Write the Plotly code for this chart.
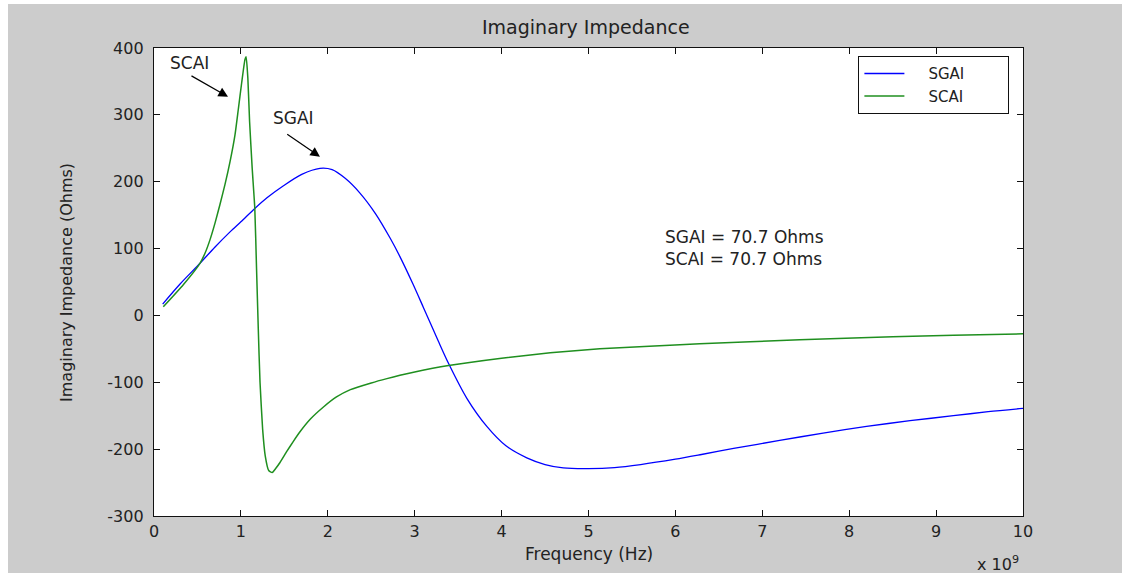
import plotly.graph_objects as go

# Frequency in units of 1e9 Hz
sgai_freq = [0.10, 0.30, 0.53, 0.70, 0.875, 1.00, 1.16, 1.30, 1.49, 1.70, 1.91, 2.05, 2.20,
             2.37, 2.55, 2.72, 2.83, 2.98, 3.10, 3.27, 3.39, 3.60, 3.83, 4.05, 4.29, 4.50,
             4.71, 5.00, 5.30, 5.60, 6.00, 6.30, 6.67, 7.20, 7.70, 8.20, 8.70, 9.20, 9.60, 10.0]
sgai_imag = [17, 47, 78, 102, 125, 140, 160, 176, 194, 211, 220, 218, 205,
             183, 152, 115, 88, 47, 12, -38, -72, -124, -166, -195, -213, -223,
             -228, -229, -227.5, -223, -215, -208, -199, -187, -176, -166, -157.5, -150, -144, -139]

scai_freq = [0.107, 0.337, 0.529, 0.587, 0.644, 0.702, 0.759, 0.817, 0.875, 0.932, 0.970,
             1.009, 1.047, 1.060, 1.08, 1.10, 1.13, 1.16, 1.18, 1.20, 1.22, 1.25, 1.28,
             1.32, 1.36, 1.40, 1.45, 1.53, 1.60, 1.68, 1.80, 1.95, 2.10, 2.26, 2.50, 2.68,
             2.83, 3.00, 3.39, 4.00, 4.56, 5.13, 5.70, 6.28, 7.43, 8.50, 9.20, 10.0]
scai_imag = [13, 46, 78, 93, 113, 138, 166, 196, 230, 270, 308,
             348, 383, 387, 355, 290, 220, 160, 70, -20, -100, -170, -210,
             -232, -235, -229, -220, -203, -189, -174, -155, -137, -122, -111, -101, -94.5,
             -89.5, -84.5, -75, -64, -56, -50, -46, -42.5, -36.5, -32, -29.5, -27.5]

x_ticks = [0, 1, 2, 3, 4, 5, 6, 7, 8, 9, 10]
y_ticks = [-300, -200, -100, 0, 100, 200, 300, 400]

FONT = "DejaVu Sans"
TXT = "#222222"
NB = "\u00a0"

fig = go.Figure()
fig.add_trace(go.Scatter(x=sgai_freq, y=sgai_imag, mode="lines", name=NB * 4 + "SGAI" + NB * 8,
                         line=dict(color="#0000ff", width=1.3, shape="spline", smoothing=0.8)))
fig.add_trace(go.Scatter(x=scai_freq, y=scai_imag, mode="lines", name=NB * 4 + "SCAI" + NB * 8,
                         line=dict(color="#1f8f1f", width=1.5, shape="spline", smoothing=0.5)))

axis_common = dict(showgrid=False, zeroline=False, showline=True, linecolor="#111111",
                   linewidth=1.3, ticks="inside", ticklen=6, tickwidth=1.3,
                   tickcolor="#111111", mirror="allticks",
                   tickfont=dict(family=FONT, size=16, color=TXT))

fig.update_xaxes(range=[0, 10], tickvals=x_ticks, ticktext=[str(t) for t in x_ticks],
                 ticklabelstandoff=1, **axis_common)
fig.update_yaxes(range=[-300, 400], tickvals=y_ticks, ticktext=[str(t) for t in y_ticks],
                 ticklabelstandoff=6, **axis_common)

ann = []
ann.append(dict(text="Imaginary Impedance", xref="paper", yref="paper", x=0.497, y=1.045,
                showarrow=False, font=dict(family=FONT, size=19, color=TXT),
                xanchor="center", yanchor="middle"))
ann.append(dict(text="Frequency (Hz)", xref="paper", yref="paper", x=0.5, y=-0.082,
                showarrow=False, font=dict(family=FONT, size=17, color=TXT),
                xanchor="center", yanchor="middle"))
ann.append(dict(text="Imaginary Impedance (Ohms)", xref="paper", yref="paper", x=-0.1013,
                y=0.50, showarrow=False, textangle=-90,
                font=dict(family=FONT, size=16, color=TXT),
                xanchor="center", yanchor="middle"))
ann.append(dict(text="x 10<sup>9</sup>", xref="paper", yref="paper", x=0.998, y=-0.102,
                showarrow=False, font=dict(family=FONT, size=16, color=TXT),
                xanchor="right", yanchor="middle"))
# curve labels
ann.append(dict(text="SCAI", x=0.414, y=377.6, xref="x", yref="y", showarrow=False,
                font=dict(family=FONT, size=17, color=TXT)))
ann.append(dict(text="SGAI", x=1.60, y=295.4, xref="x", yref="y", showarrow=False,
                font=dict(family=FONT, size=17, color=TXT)))
# arrows
ann.append(dict(text="", x=0.852, y=327, ax=0.414, ay=359.6, xref="x", yref="y",
                axref="x", ayref="y", showarrow=True, arrowhead=2, arrowsize=1.6,
                arrowwidth=1.2, arrowcolor="#000000"))
ann.append(dict(text="", x=1.91, y=237.5, ax=1.516, ay=272.5, xref="x", yref="y",
                axref="x", ayref="y", showarrow=True, arrowhead=2, arrowsize=1.6,
                arrowwidth=1.2, arrowcolor="#000000"))
# values text
ann.append(dict(text="SGAI = 70.7 Ohms", x=5.86, y=118, xref="x", yref="y",
                showarrow=False, xanchor="left", yanchor="middle",
                font=dict(family=FONT, size=17, color=TXT)))
ann.append(dict(text="SCAI = 70.7 Ohms", x=5.86, y=84, xref="x", yref="y",
                showarrow=False, xanchor="left", yanchor="middle",
                font=dict(family=FONT, size=17, color=TXT)))

shapes = [
    dict(type="rect", xref="paper", yref="paper", x0=-0.19, x1=-0.168, y0=-0.2, y1=1.2,
         fillcolor="#ffffff", line=dict(width=0), layer="below"),
    dict(type="rect", xref="paper", yref="paper", x0=-0.19, x1=1.2, y0=1.094, y1=1.2,
         fillcolor="#ffffff", line=dict(width=0), layer="below"),
]

fig.update_layout(
    width=1122, height=573,
    margin=dict(l=154, r=99, t=48, b=57),
    paper_bgcolor="#cccccc", plot_bgcolor="#ffffff",
    showlegend=True,
    legend=dict(x=0.984, y=0.983, xanchor="right", yanchor="top",
                bgcolor="#ffffff", bordercolor="#111111", borderwidth=1.3,
                font=dict(family=FONT, size=15, color=TXT), itemwidth=40,
                tracegroupgap=0),
    annotations=ann, shapes=shapes,
)

fig.write_html("out.html")
